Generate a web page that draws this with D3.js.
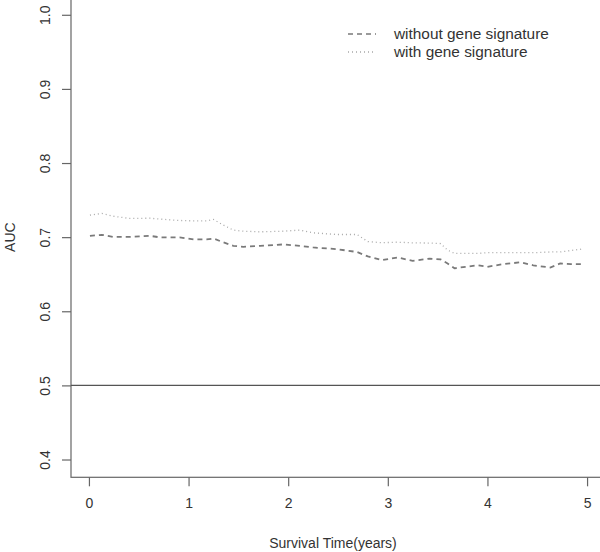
<!DOCTYPE html>
<html>
<head>
<meta charset="utf-8">
<script src="https://cdn.jsdelivr.net/npm/d3@7"></script>
<style>
    body { margin: 0; background: #fff; }
    text { font-family: "Liberation Sans", Arial, sans-serif; fill: #333; }
</style>
</head>
<body>
<script>
// survival time (years) at which AUC was read
const times = [0.01, 0.13, 0.24, 0.41, 0.61, 0.72, 0.91, 1.05, 1.18, 1.25, 1.35, 1.45, 1.55, 1.72,
    1.95, 2.12, 2.25, 2.49, 2.69, 2.8, 2.94, 3.1, 3.25, 3.42, 3.53, 3.6, 3.67, 3.78, 3.9, 4.0,
    4.16, 4.33, 4.46, 4.63, 4.73, 4.84, 4.95];
const aucWithout = [0.7018, 0.7031, 0.7004, 0.7004, 0.7018, 0.6996, 0.6996, 0.6969, 0.6969, 0.6982,
    0.693, 0.6883, 0.687, 0.6883, 0.6902, 0.6883, 0.6861, 0.6838, 0.680, 0.674, 0.669, 0.6726,
    0.668, 0.671, 0.670, 0.6645, 0.658, 0.660, 0.662, 0.660, 0.6636, 0.666, 0.662, 0.659, 0.6645,
    0.6636, 0.6636];
const aucWith = [0.7297, 0.732, 0.7283, 0.7252, 0.7256, 0.7243, 0.7225, 0.722, 0.7219, 0.7239,
    0.7162, 0.7095, 0.708, 0.7072, 0.708, 0.7095, 0.7058, 0.7036, 0.7036, 0.694, 0.6925, 0.6932,
    0.6923, 0.692, 0.6914, 0.6825, 0.678, 0.678, 0.678, 0.679, 0.679, 0.679, 0.679, 0.680, 0.680,
    0.682, 0.684];
const xTicks = [0, 1, 2, 3, 4, 5];
const yTicks = [0.4, 0.5, 0.6, 0.7, 0.8, 0.9, 1.0];
const refLine = 0.5;
const legendLabels = ['without gene signature', 'with gene signature'];

const width = 600, height = 552;
const plot = { left: 71, right: 605, top: -3, bottom: 477.3 };

const svg = d3.select('body').append('svg')
    .attr('width', width)
    .attr('height', height);

const x = d3.scaleLinear().domain([-0.18, 5.18]).range([plot.left, plot.right]);
const y = d3.scaleLinear().domain([0.376, 1.024]).range([plot.bottom, plot.top]);

const axisColor = '#666';
const fontFamily = '"Liberation Sans", Arial, sans-serif';

// box
svg.append('rect')
    .attr('x', plot.left)
    .attr('y', plot.top)
    .attr('width', plot.right - plot.left)
    .attr('height', plot.bottom - plot.top)
    .attr('fill', 'none')
    .attr('stroke', axisColor)
    .attr('stroke-width', 1.2);

// x axis
const xAxis = svg.append('g')
    .attr('transform', `translate(0,${plot.bottom})`)
    .call(d3.axisBottom(x).tickValues(xTicks).tickSize(9).tickPadding(12).tickFormat(d3.format('d')));
xAxis.select('.domain').remove();
xAxis.selectAll('line').attr('stroke', axisColor).attr('stroke-width', 1.2);
xAxis.selectAll('text').attr('font-size', 14).attr('fill', '#333')
    .attr('font-family', fontFamily);

// y axis with rotated labels
const yAxis = svg.append('g')
    .attr('transform', `translate(${plot.left},0)`)
    .call(d3.axisLeft(y).tickValues(yTicks).tickSize(9).tickFormat(d3.format('.1f')));
yAxis.select('.domain').remove();
yAxis.selectAll('line').attr('stroke', axisColor).attr('stroke-width', 1.2);
yAxis.selectAll('text')
    .attr('font-size', 14).attr('fill', '#333')
    .attr('font-family', fontFamily)
    .attr('x', null).attr('dy', null)
    .attr('text-anchor', 'middle')
    .attr('transform', `translate(-21,0) rotate(-90)`);

// reference line
svg.append('line')
    .attr('x1', plot.left).attr('x2', width)
    .attr('y1', y(refLine)).attr('y2', y(refLine))
    .attr('stroke', '#555')
    .attr('stroke-width', 1.2);

const line = d3.line()
    .x((d, i) => x(times[i]))
    .y(d => y(d));

svg.append('path')
    .datum(aucWithout)
    .attr('d', line)
    .attr('fill', 'none')
    .attr('stroke', '#7a7a7a')
    .attr('stroke-width', 1.8)
    .attr('stroke-dasharray', '5,4');

svg.append('path')
    .datum(aucWith)
    .attr('d', line)
    .attr('fill', 'none')
    .attr('stroke', '#a8a8a8')
    .attr('stroke-width', 1.3)
    .attr('stroke-dasharray', '1,3');

// titles
svg.append('text')
    .attr('x', 333).attr('y', 548)
    .attr('text-anchor', 'middle')
    .attr('font-size', 14)
    .text('Survival Time(years)');

svg.append('text')
    .attr('transform', `translate(15,${y(0.7)}) rotate(-90)`)
    .attr('text-anchor', 'middle')
    .attr('font-size', 14)
    .text('AUC');

// legend
const legend = svg.append('g');
const legendStyles = [
    { stroke: '#7a7a7a', width: 1.6, dash: '5,4' },
    { stroke: '#a8a8a8', width: 1.3, dash: '1,3' }
];
legendLabels.forEach((label, i) => {
    const ly = 34 + i * 18;
    legend.append('line')
        .attr('x1', 348).attr('x2', 376)
        .attr('y1', ly).attr('y2', ly)
        .attr('stroke', legendStyles[i].stroke)
        .attr('stroke-width', legendStyles[i].width)
        .attr('stroke-dasharray', legendStyles[i].dash);
    legend.append('text')
        .attr('x', 394).attr('y', ly)
        .attr('dy', '0.35em')
        .attr('font-size', 15.4)
        .text(label);
});
</script>
</body>
</html>
